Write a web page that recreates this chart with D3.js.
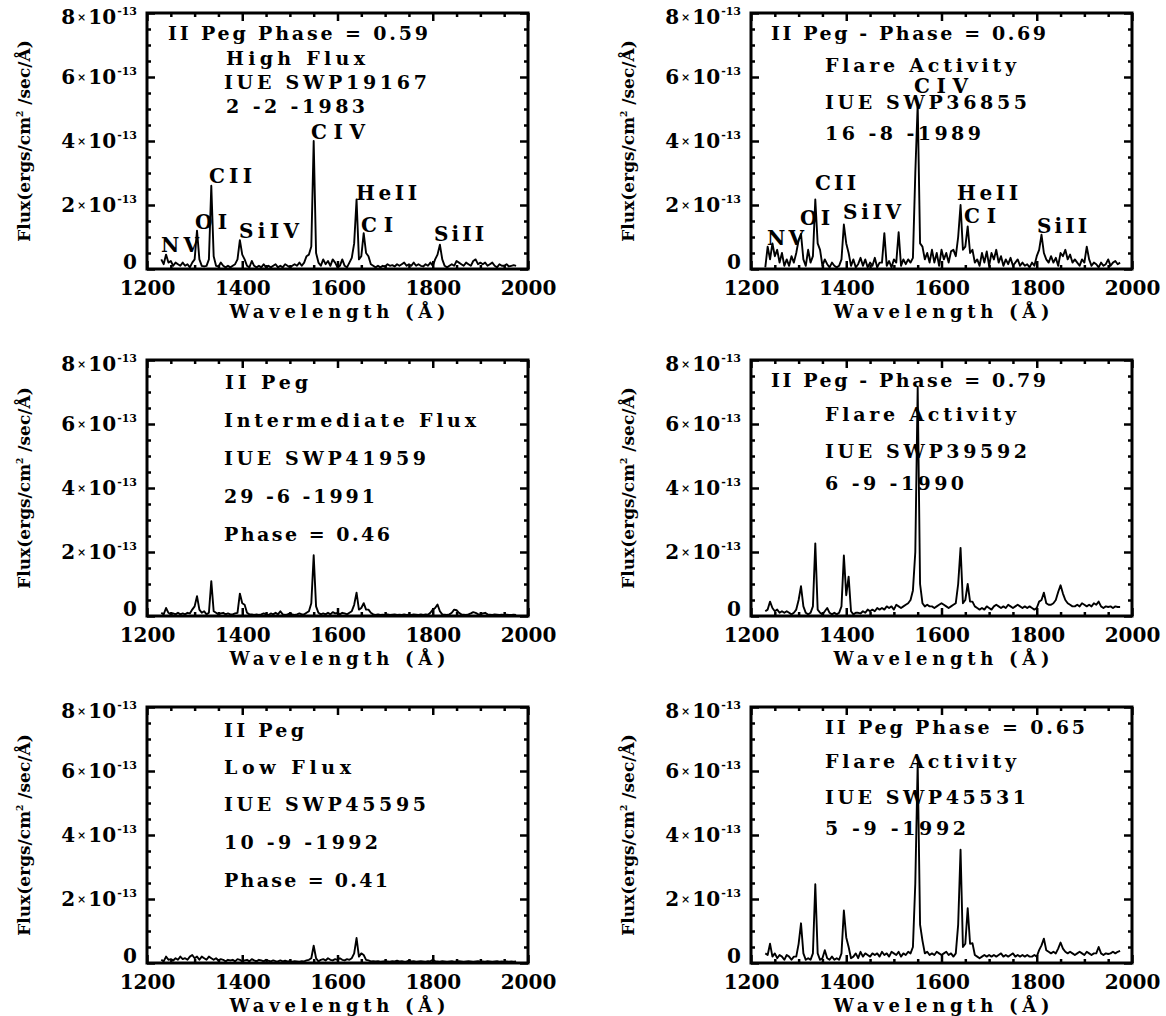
<!DOCTYPE html>
<html>
<head>
<meta charset="utf-8">
<script src="https://cdn.jsdelivr.net/npm/d3@7"></script>
<style>
  body { margin: 0; background: #fff; }
  svg text { font-family: "DejaVu Serif", serif; font-weight: bold; fill: #000; }
</style>
</head>
<body>
<svg id="chart" width="1166" height="1016"></svg>
<script>
// wavelength grid of the IUE SWP spectra (Angstrom)
var wavelength = [
  1230, 1235, 1240, 1245, 1250, 1255, 1260, 1265, 1270, 1275,
  1280, 1285, 1290, 1295, 1300, 1305, 1310, 1315, 1320, 1325,
  1330, 1335, 1340, 1345, 1350, 1355, 1360, 1365, 1370, 1375,
  1380, 1385, 1390, 1395, 1400, 1405, 1410, 1415, 1420, 1425,
  1430, 1435, 1440, 1445, 1450, 1455, 1460, 1465, 1470, 1475,
  1480, 1485, 1490, 1495, 1500, 1505, 1510, 1515, 1520, 1525,
  1530, 1535, 1540, 1545, 1550, 1555, 1560, 1565, 1570, 1575,
  1580, 1585, 1590, 1595, 1600, 1605, 1610, 1615, 1620, 1625,
  1630, 1635, 1640, 1645, 1650, 1655, 1660, 1665, 1670, 1675,
  1680, 1685, 1690, 1695, 1700, 1705, 1710, 1715, 1720, 1725,
  1730, 1735, 1740, 1745, 1750, 1755, 1760, 1765, 1770, 1775,
  1780, 1785, 1790, 1795, 1800, 1805, 1810, 1815, 1820, 1825,
  1830, 1835, 1840, 1845, 1850, 1855, 1860, 1865, 1870, 1875,
  1880, 1885, 1890, 1895, 1900, 1905, 1910, 1915, 1920, 1925,
  1930, 1935, 1940, 1945, 1950, 1955, 1960, 1965, 1970, 1975
];

// fluxes in units of 1e-13 ergs/cm2/sec/A
var fluxHigh = [ // SWP19167
  0.30, 0.15, 0.45, 0.20, 0.25, 0.10, 0.20, 0.15, 0.10, 0.20,
  0.10, 0.15, 0.05, 0.20, 0.30, 1.20, 0.30, 0.10, 0.08, 0.10,
  0.30, 2.60, 0.40, 0.10, 0.08, 0.20, 0.10, 0.05, 0.10, 0.05,
  0.10, 0.15, 0.30, 0.90, 0.45, 0.30, 0.10, 0.05, 0.25, 0.10,
  0.05, 0.10, 0.05, 0.15, 0.05, 0.10, 0.05, 0.10, 0.15, 0.05,
  0.10, 0.05, 0.15, 0.10, 0.05, 0.10, 0.15, 0.10, 0.20, 0.10,
  0.20, 0.40, 0.45, 0.70, 4.00, 0.50, 0.20, 0.10, 0.30, 0.15,
  0.25, 0.10, 0.30, 0.20, 0.05, 0.10, 0.30, 0.10, 0.05, 0.20,
  0.35, 0.80, 2.17, 0.30, 0.40, 1.12, 0.50, 0.40, 0.15, 0.10,
  0.05, 0.10, 0.05, 0.10, 0.08, 0.15, 0.10, 0.12, 0.08, 0.15,
  0.10, 0.15, 0.20, 0.10, 0.15, 0.10, 0.20, 0.10, 0.15, 0.10,
  0.08, 0.15, 0.10, 0.20, 0.10, 0.30, 0.45, 0.76, 0.30, 0.10,
  0.05, 0.10, 0.15, 0.10, 0.25, 0.20, 0.15, 0.10, 0.20, 0.15,
  0.10, 0.25, 0.30, 0.15, 0.20, 0.15, 0.20, 0.10, 0.15, 0.20,
  0.10, 0.05, 0.15, 0.10, 0.10, 0.15, 0.08, 0.10, 0.12, 0.10
];
var fluxFlare69 = [ // SWP36855
  0.05, 0.70, 0.30, 0.80, 0.40, 0.60, 0.20, 0.50, 0.10, 0.30,
  0.10, 0.40, 0.20, 0.50, 0.90, 1.10, 0.30, 0.10, 0.60, 0.20,
  0.40, 2.17, 0.80, 0.60, 0.10, 0.30, 0.15, 0.05, 0.20, 0.10,
  0.05, 0.10, 0.30, 1.39, 0.80, 0.50, 0.10, 0.30, 0.05, 0.15,
  0.35, 0.10, 0.30, 0.05, 0.20, 0.10, 0.35, 0.05, 0.20, 0.20,
  1.12, 0.10, 0.25, 0.05, 0.30, 0.20, 1.15, 0.10, 0.30, 0.15,
  0.30, 0.20, 0.35, 3.00, 5.15, 0.80, 0.70, 0.30, 0.50, 0.20,
  0.60, 0.20, 0.50, 0.10, 0.60, 0.30, 0.50, 0.20, 0.55, 0.60,
  0.40, 1.00, 2.00, 0.60, 0.70, 1.33, 0.50, 0.60, 0.20, 0.30,
  0.10, 0.50, 0.20, 0.55, 0.10, 0.50, 0.30, 0.60, 0.20, 0.40,
  0.10, 0.30, 0.15, 0.35, 0.10, 0.20, 0.30, 0.10, 0.20, 0.10,
  0.15, 0.05, 0.20, 0.10, 0.40, 0.60, 1.07, 0.50, 0.30, 0.20,
  0.40, 0.20, 0.35, 0.10, 0.50, 0.40, 0.60, 0.30, 0.45, 0.20,
  0.30, 0.20, 0.10, 0.30, 0.20, 0.70, 0.30, 0.10, 0.20, 0.15,
  0.05, 0.20, 0.10, 0.15, 0.30, 0.10, 0.20, 0.25, 0.15, 0.20
];
var fluxInter = [ // SWP41959
  0.10, 0.05, 0.25, 0.10, 0.05, 0.08, 0.05, 0.10, 0.05, 0.08,
  0.05, 0.10, 0.08, 0.20, 0.30, 0.62, 0.20, 0.10, 0.15, 0.05,
  0.10, 1.09, 0.15, 0.10, 0.05, 0.08, 0.10, 0.05, 0.08, 0.05,
  0.05, 0.08, 0.10, 0.70, 0.40, 0.35, 0.10, 0.05, 0.05, 0.03,
  0.05, 0.03, 0.05, 0.08, 0.05, 0.03, 0.08, 0.05, 0.10, 0.05,
  0.15, 0.05, 0.03, 0.05, 0.08, 0.05, 0.03, 0.05, 0.08, 0.05,
  0.05, 0.10, 0.15, 0.40, 1.90, 0.30, 0.10, 0.05, 0.08, 0.05,
  0.10, 0.05, 0.12, 0.08, 0.10, 0.05, 0.10, 0.08, 0.05, 0.10,
  0.15, 0.35, 0.73, 0.20, 0.25, 0.40, 0.20, 0.20, 0.10, 0.05,
  0.03, 0.05, 0.03, 0.04, 0.03, 0.05, 0.03, 0.04, 0.05, 0.03,
  0.04, 0.03, 0.05, 0.03, 0.04, 0.03, 0.05, 0.04, 0.03, 0.05,
  0.03, 0.05, 0.04, 0.10, 0.20, 0.25, 0.36, 0.15, 0.05, 0.04,
  0.03, 0.05, 0.10, 0.20, 0.18, 0.10, 0.05, 0.04, 0.03, 0.05,
  0.08, 0.12, 0.10, 0.06, 0.05, 0.08, 0.10, 0.05, 0.04, 0.03,
  0.05, 0.04, 0.03, 0.04, 0.03, 0.04, 0.03, 0.03, 0.04, 0.03
];
var fluxFlare79 = [ // SWP39592
  0.15, 0.20, 0.45, 0.25, 0.15, 0.20, 0.10, 0.15, 0.10, 0.15,
  0.10, 0.05, 0.10, 0.20, 0.50, 0.93, 0.30, 0.10, 0.05, 0.10,
  0.30, 2.27, 0.20, 0.10, 0.05, 0.15, 0.25, 0.10, 0.05, 0.10,
  0.05, 0.10, 0.30, 1.89, 0.65, 1.23, 0.15, 0.05, 0.10, 0.10,
  0.08, 0.15, 0.10, 0.20, 0.15, 0.20, 0.15, 0.25, 0.20, 0.25,
  0.20, 0.30, 0.25, 0.30, 0.20, 0.35, 0.30, 0.25, 0.30, 0.35,
  0.40, 0.50, 0.80, 2.00, 7.15, 1.00, 0.40, 0.30, 0.35, 0.30,
  0.30, 0.25, 0.30, 0.35, 0.40, 0.35, 0.30, 0.25, 0.30, 0.35,
  0.40, 1.00, 2.13, 0.40, 0.50, 1.00, 0.45, 0.45, 0.30, 0.25,
  0.20, 0.25, 0.20, 0.30, 0.25, 0.20, 0.30, 0.35, 0.30, 0.25,
  0.30, 0.25, 0.35, 0.30, 0.25, 0.30, 0.35, 0.30, 0.25, 0.30,
  0.25, 0.30, 0.25, 0.20, 0.25, 0.45, 0.50, 0.73, 0.40, 0.35,
  0.35, 0.40, 0.50, 0.75, 0.96, 0.70, 0.50, 0.40, 0.35, 0.30,
  0.30, 0.35, 0.30, 0.40, 0.35, 0.30, 0.35, 0.30, 0.40, 0.35,
  0.45, 0.30, 0.25, 0.30, 0.28, 0.30, 0.25, 0.30, 0.28, 0.28
];
var fluxLow = [ // SWP45595
  0.10, 0.05, 0.20, 0.10, 0.12, 0.08, 0.15, 0.10, 0.20, 0.12,
  0.15, 0.10, 0.20, 0.25, 0.15, 0.20, 0.10, 0.20, 0.15, 0.10,
  0.20, 0.15, 0.10, 0.15, 0.08, 0.12, 0.10, 0.05, 0.10, 0.08,
  0.10, 0.05, 0.12, 0.10, 0.05, 0.08, 0.10, 0.05, 0.12, 0.08,
  0.05, 0.10, 0.08, 0.05, 0.10, 0.07, 0.05, 0.08, 0.06, 0.05,
  0.08, 0.05, 0.07, 0.05, 0.06, 0.04, 0.06, 0.05, 0.04, 0.06,
  0.05, 0.08, 0.10, 0.15, 0.54, 0.15, 0.05, 0.10, 0.12, 0.08,
  0.15, 0.10, 0.08, 0.12, 0.10, 0.15, 0.10, 0.08, 0.12, 0.10,
  0.15, 0.30, 0.78, 0.20, 0.30, 0.25, 0.10, 0.08, 0.05, 0.06,
  0.05, 0.06, 0.04, 0.05, 0.06, 0.05, 0.04, 0.06, 0.05, 0.07,
  0.05, 0.06, 0.04, 0.05, 0.07, 0.05, 0.06, 0.04, 0.05, 0.06,
  0.05, 0.04, 0.06, 0.05, 0.10, 0.06, 0.05, 0.04, 0.06, 0.05,
  0.04, 0.05, 0.06, 0.04, 0.05, 0.06, 0.05, 0.04, 0.05, 0.06,
  0.05, 0.04, 0.05, 0.06, 0.04, 0.05, 0.04, 0.06, 0.05, 0.04,
  0.05, 0.06, 0.04, 0.05, 0.04, 0.05, 0.04, 0.05, 0.04, 0.05
];
var fluxFlare65 = [ // SWP45531
  0.30, 0.25, 0.60, 0.20, 0.30, 0.15, 0.25, 0.20, 0.10, 0.25,
  0.20, 0.10, 0.20, 0.20, 0.60, 1.24, 0.30, 0.10, 0.15, 0.10,
  0.30, 2.46, 0.30, 0.10, 0.15, 0.40, 0.15, 0.10, 0.20, 0.10,
  0.15, 0.10, 0.30, 1.64, 0.80, 0.50, 0.15, 0.20, 0.30, 0.15,
  0.35, 0.20, 0.30, 0.25, 0.20, 0.30, 0.25, 0.30, 0.20, 0.35,
  0.25, 0.30, 0.20, 0.35, 0.30, 0.25, 0.35, 0.20, 0.30, 0.25,
  0.35, 0.30, 0.50, 2.50, 6.24, 1.20, 0.70, 0.30, 0.35, 0.25,
  0.30, 0.25, 0.35, 0.30, 0.25, 0.30, 0.35, 0.25, 0.30, 0.20,
  0.30, 1.20, 3.54, 0.50, 0.60, 1.71, 0.60, 0.62, 0.25, 0.20,
  0.15, 0.20, 0.25, 0.20, 0.25, 0.20, 0.25, 0.20, 0.25, 0.30,
  0.20, 0.25, 0.20, 0.25, 0.30, 0.20, 0.25, 0.20, 0.25, 0.20,
  0.25, 0.20, 0.20, 0.25, 0.20, 0.40, 0.55, 0.76, 0.40, 0.35,
  0.30, 0.35, 0.30, 0.45, 0.64, 0.45, 0.35, 0.30, 0.35, 0.30,
  0.25, 0.30, 0.35, 0.30, 0.25, 0.35, 0.30, 0.25, 0.30, 0.30,
  0.50, 0.30, 0.25, 0.30, 0.28, 0.30, 0.35, 0.30, 0.35, 0.38
];

// axis ticks and labels
var xTicks = [1200, 1400, 1600, 1800, 2000];
var yTicks = [0, 2, 4, 6, 8];
var yExponent = "-13";
var xTitle = "Wavelength (Å)";

// text written inside the panels
var notesHigh = ["II Peg  Phase = 0.59", "High Flux", "IUE SWP19167", "2 -2 -1983"];
var notesFlare69 = ["II Peg - Phase = 0.69", "Flare Activity", "IUE SWP36855", "16 -8 -1989"];
var notesInter = ["II Peg", "Intermediate Flux", "IUE SWP41959", "29 -6 -1991", "Phase = 0.46"];
var notesFlare79 = ["II Peg - Phase = 0.79", "Flare Activity", "IUE SWP39592", "6 -9 -1990"];
var notesLow = ["II Peg", "Low Flux", "IUE SWP45595", "10 -9 -1992", "Phase = 0.41"];
var notesFlare65 = ["II Peg  Phase = 0.65", "Flare Activity", "IUE SWP45531", "5 -9 -1992"];
var lineIds = ["NV", "OI", "CII", "SiIV", "CIV", "HeII", "CI", "SiII"];

// frame geometry
var W = 381, H = 256;
var colLeft = [147, 751], rowTop = [13, 360, 707];

// text placement: [dx, baseline dy, width] from the frame's top-left corner
var panels = [
  { col: 0, row: 0, flux: fluxHigh, notes: notesHigh,
    noteAt: [[21, 27, 260], [79, 52, 139], [77, 76, 203], [79, 100, 139]],
    labelAt: [[14, 239, 38], [48, 216, 32], [62, 170, 43], [92, 225, 60], [164, 126, 54], [209, 187, 61], [214, 219, 32], [287, 228, 50]] },
  { col: 1, row: 0, flux: fluxFlare69, notes: notesFlare69,
    noteAt: [[20, 27, 275], [74, 59, 191], [74, 96, 202], [74, 127, 156]],
    labelAt: [[16, 232, 37], [49, 212, 30], [64, 177, 41], [92, 206, 58], [163, 80, 54], [206, 187, 61], [213, 210, 32], [286, 220, 50]] },
  { col: 0, row: 1, flux: fluxInter, notes: notesInter,
    noteAt: [[78, 29, 83], [77, 67, 252], [77, 105, 202], [77, 143, 151], [77, 181, 166]] },
  { col: 1, row: 1, flux: fluxFlare79, notes: notesFlare79,
    noteAt: [[20, 27, 275], [74, 61, 191], [74, 98, 202], [74, 130, 139]] },
  { col: 0, row: 2, flux: fluxLow, notes: notesLow,
    noteAt: [[77, 30, 80], [77, 67, 127], [77, 104, 202], [77, 142, 154], [77, 180, 164]] },
  { col: 1, row: 2, flux: fluxFlare65, notes: notesFlare65,
    noteAt: [[74, 27, 260], [74, 61, 191], [74, 97, 201], [74, 128, 141]] }
];

var svg = d3.select("#chart");

// minor tick values that are not major ones
function minorValues(lo, hi, step, major) {
  return d3.range(lo, hi + step / 2, step).filter(function(v) {
    return Math.abs(v / major - Math.round(v / major)) > 1e-6;
  });
}
var xMinor = minorValues(1200, 2000, 50, 200);
var yMinor = minorValues(0, 8, 0.5, 2);

function drawPanel(p) {
  var left = colLeft[p.col], top = rowTop[p.row];
  var x = d3.scaleLinear().domain([1200, 2000]).range([left, left + W]);
  var y = d3.scaleLinear().domain([0, 8]).range([top + H, top]);
  var g = svg.append("g");

  // spectrum
  var line = d3.line()
    .x(function(d, i) { return x(wavelength[i]); })
    .y(function(d) { return y(d); });
  g.append("path").datum(p.flux)
    .attr("d", line)
    .attr("fill", "none")
    .attr("stroke", "#000")
    .attr("stroke-width", 1.9)
    .attr("stroke-linejoin", "round");

  // inward ticks on all four sides
  var sets = [
    [d3.axisBottom(x).tickValues(xMinor).tickSizeInner(-4), "translate(0," + (top + H) + ")"],
    [d3.axisTop(x).tickValues(xMinor).tickSizeInner(-4), "translate(0," + top + ")"],
    [d3.axisTop(x).tickValues(xTicks).tickSizeInner(-8), "translate(0," + top + ")"],
    [d3.axisLeft(y).tickValues(yMinor).tickSizeInner(-4), "translate(" + left + ",0)"],
    [d3.axisRight(y).tickValues(yMinor).tickSizeInner(-4), "translate(" + (left + W) + ",0)"],
    [d3.axisRight(y).tickValues(yTicks).tickSizeInner(-8), "translate(" + (left + W) + ",0)"]
  ];
  sets.forEach(function(s) {
    var a = g.append("g").attr("transform", s[1])
      .call(s[0].tickSizeOuter(0).tickFormat(""));
    a.select(".domain").remove();
    a.selectAll("line").attr("stroke-width", 2.5);
  });

  // bottom axis with labels
  var xa = g.append("g").attr("transform", "translate(0," + (top + H) + ")")
    .call(d3.axisBottom(x).tickValues(xTicks).tickSizeInner(-8).tickSizeOuter(0)
      .tickPadding(12).tickFormat(d3.format("d")));
  xa.select(".domain").remove();
  xa.selectAll("line").attr("stroke-width", 2.5);
  xa.selectAll("text").style("font-size", "20px");

  // left axis with 10^-13 labels
  var ya = g.append("g").attr("transform", "translate(" + left + ",0)")
    .call(d3.axisLeft(y).tickValues(yTicks).tickSizeInner(-8).tickSizeOuter(0).tickPadding(10).tickFormat(""));
  ya.select(".domain").remove();
  ya.selectAll("line").attr("stroke-width", 2.5);
  ya.selectAll("text").each(function(v) {
    var t = d3.select(this).style("font-size", "20px");
    var shift = v === 0 ? -7 : (v === 8 ? 4 : 0);
    t.attr("y", shift);
    if (v === 0) { t.text("0"); return; }
    t.append("tspan").text(v);
    t.append("tspan").text("×").style("font-size", "11px").attr("dx", 2).attr("dy", -3);
    t.append("tspan").text("10").attr("dx", 2).attr("dy", 3);
    t.append("tspan").text(yExponent).style("font-size", "11px").attr("dx", 1).attr("dy", -9);
  });

  // frame
  g.append("rect")
    .attr("x", left).attr("y", top).attr("width", W).attr("height", H)
    .attr("fill", "none").attr("stroke", "#000").attr("stroke-width", 3);

  // axis titles
  g.append("text")
    .attr("x", left + W / 2).attr("y", top + H + 49)
    .attr("text-anchor", "middle")
    .attr("textLength", 216).attr("lengthAdjust", "spacing")
    .style("font-size", "18px")
    .text(xTitle);

  var yt = g.append("text")
    .attr("transform", "translate(" + (left - 117) + "," + (top + H / 2) + ") rotate(-90)")
    .attr("text-anchor", "middle")
    .style("font-size", "17px");
  yt.append("tspan").text("Flux(ergs/cm");
  yt.append("tspan").text("2").style("font-size", "9px").attr("dy", -7);
  yt.append("tspan").text(" /sec/Å)").attr("dy", 7);

  // annotations
  p.notes.forEach(function(s, i) {
    var at = p.noteAt[i];
    g.append("text")
      .attr("x", left + at[0]).attr("y", top + at[1])
      .attr("textLength", at[2]).attr("lengthAdjust", "spacing")
      .style("font-size", "19px")
      .text(s);
  });
  if (p.labelAt) {
    lineIds.forEach(function(s, i) {
      var at = p.labelAt[i];
      g.append("text")
        .attr("x", left + at[0]).attr("y", top + at[1])
        .attr("textLength", at[2]).attr("lengthAdjust", "spacing")
        .style("font-size", "20px")
        .text(s);
    });
  }
}

panels.forEach(drawPanel);
</script>
</body>
</html>
